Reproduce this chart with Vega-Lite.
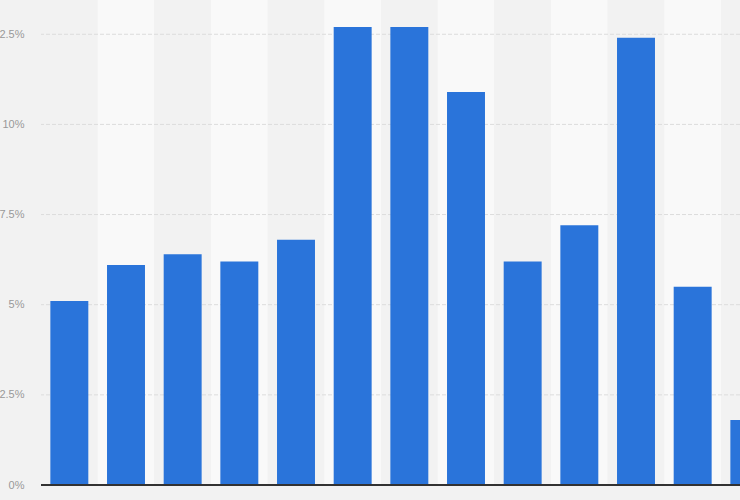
{
  "$schema": "https://vega.github.io/schema/vega-lite/v6.json",
  "autosize": {"type": "none"},
  "padding": {"left": 41, "top": 0, "right": 0, "bottom": 15},
  "width": 699,
  "height": 485,
  "background": "#f2f2f2",
  "config": {"view": {"stroke": null}},
  "data": {
    "values": [
      {"i": 1, "share": 5.1},
      {"i": 2, "share": 6.1},
      {"i": 3, "share": 6.4},
      {"i": 4, "share": 6.2},
      {"i": 5, "share": 6.8},
      {"i": 6, "share": 12.7},
      {"i": 7, "share": 12.7},
      {"i": 8, "share": 10.9},
      {"i": 9, "share": 6.2},
      {"i": 10, "share": 7.2},
      {"i": 11, "share": 12.4},
      {"i": 12, "share": 5.5},
      {"i": 13, "share": 1.8}
    ]
  },
  "encoding": {
    "x": {
      "field": "i",
      "type": "ordinal",
      "axis": null,
      "scale": {"range": [0, 736.67], "paddingInner": 0, "paddingOuter": 0}
    }
  },
  "layer": [
    {
      "mark": {"type": "bar", "cornerRadius": 0},
      "encoding": {
        "y": {"datum": 13.45, "type": "quantitative", "scale": {"domain": [0, 13.45], "nice": false}},
        "y2": {"datum": 0},
        "color": {
          "condition": {"test": "datum.i % 2 === 1", "value": "#f2f2f2"},
          "value": "#f9f9f9"
        }
      }
    },
    {
      "data": {"values": [{"g": 2.5}, {"g": 5}, {"g": 7.5}, {"g": 10}, {"g": 12.5}]},
      "mark": {"type": "rule", "color": "#dcdcdc", "strokeWidth": 1, "strokeDash": [4, 2]},
      "encoding": {
        "x": null,
        "y": {"field": "g", "type": "quantitative"}
      }
    },
    {
      "mark": {"type": "bar", "color": "#2a74da", "width": {"band": 0.67}},
      "encoding": {
        "y": {
          "field": "share",
          "type": "quantitative",
          "axis": {
            "values": [0, 2.5, 5, 7.5, 10, 12.5],
            "labelExpr": "datum.value + '%'",
            "ticks": false,
            "domain": false,
            "grid": false,
            "title": null,
            "labelPadding": 17,
            "labelColor": "#999999",
            "labelFont": "Liberation Sans",
            "labelFontSize": 11
          }
        }
      }
    },
    {
      "mark": {"type": "rule", "color": "#333333", "strokeWidth": 1.5},
      "encoding": {
        "x": null,
        "y": {"datum": 0, "type": "quantitative"}
      }
    }
  ]
}
